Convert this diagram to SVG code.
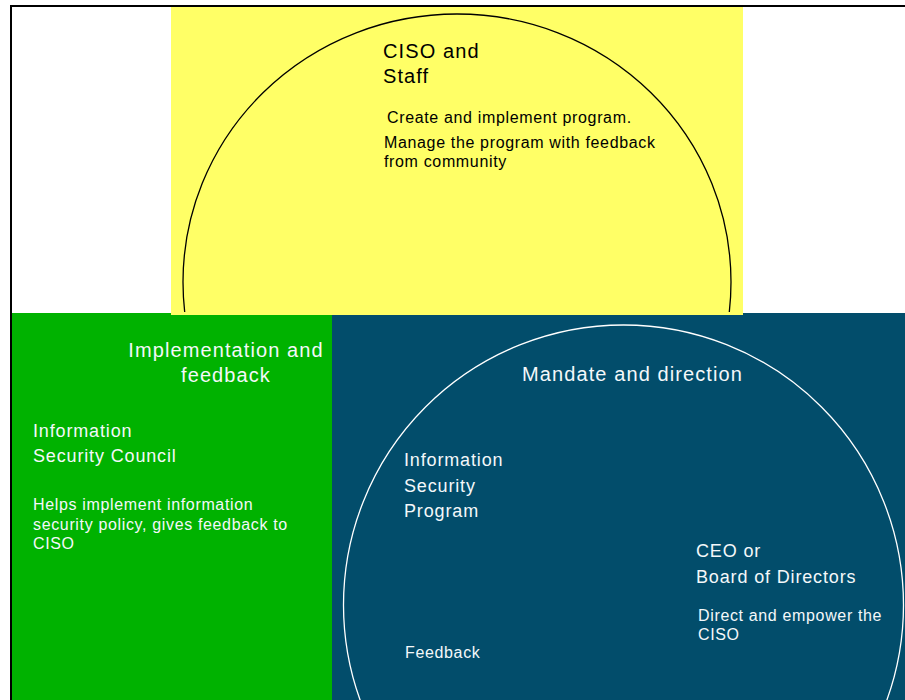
<svg xmlns="http://www.w3.org/2000/svg" width="905" height="700" viewBox="0 0 905 700">
<style>
text{font-family:"Liberation Sans",Arial,sans-serif}
.t20{font-size:20px;letter-spacing:1.1px}
.t18{font-size:18px;letter-spacing:0.85px}
.t16{font-size:16px;letter-spacing:0.65px}
.dk{fill:#000}
.wt{fill:#f4f8fa}
</style>
<defs>
<clipPath id="yc"><rect x="171" y="6" width="572" height="306"/></clipPath>
<clipPath id="bc"><rect x="332" y="313" width="573" height="387"/></clipPath>
</defs>
<rect x="0" y="0" width="905" height="700" fill="#fff"/>
<g id="green">
<rect x="12" y="313" width="320" height="387" fill="#00b200"/>
<text class="t20 wt" x="226" y="357" text-anchor="middle">Implementation and</text>
<text class="t20 wt" x="226" y="382" text-anchor="middle">feedback</text>
</g>
<g id="council">
<text class="t18 wt" x="33" y="437">Information</text>
<text class="t18 wt" x="33" y="462">Security Council</text>
<text class="t16 wt" x="33" y="510">Helps implement information</text>
<text class="t16 wt" x="33" y="530">security policy, gives feedback to</text>
<text class="t16 wt" x="33" y="549">CISO</text>
</g>
<g id="blue">
<rect x="332" y="313" width="573" height="387" fill="#024d6b"/>
<circle cx="623.5" cy="605" r="280" fill="none" stroke="#fff" stroke-width="1.3" clip-path="url(#bc)"/>
<text class="t20 wt" x="522" y="381">Mandate and direction</text>
</g>
<g id="program">
<text class="t18 wt" x="404" y="466">Information</text>
<text class="t18 wt" x="404" y="492">Security</text>
<text class="t18 wt" x="404" y="517">Program</text>
<text class="t16 wt" x="405" y="658">Feedback</text>
</g>
<g id="ceo">
<text class="t18 wt" x="696" y="557">CEO or</text>
<text class="t18 wt" x="696" y="583">Board of Directors</text>
<text class="t16 wt" x="698" y="621">Direct and empower the</text>
<text class="t16 wt" x="698" y="640">CISO</text>
</g>
<g id="ciso">
<rect x="171" y="7" width="572" height="308" fill="#ffff66"/>
<ellipse cx="457" cy="282" rx="274" ry="268" fill="none" stroke="#000" stroke-width="1.3" clip-path="url(#yc)"/>
<text class="t20 dk" x="383" y="58">CISO and</text>
<text class="t20 dk" x="383" y="83">Staff</text>
<text class="t16 dk" x="387" y="123">Create and implement program.</text>
<text class="t16 dk" x="384" y="148">Manage the program with feedback</text>
<text class="t16 dk" x="384" y="167">from community</text>
</g>
<g id="frame">
<path d="M11 700 V6 H905" fill="none" stroke="#000" stroke-width="2"/>
</g>
</svg>
